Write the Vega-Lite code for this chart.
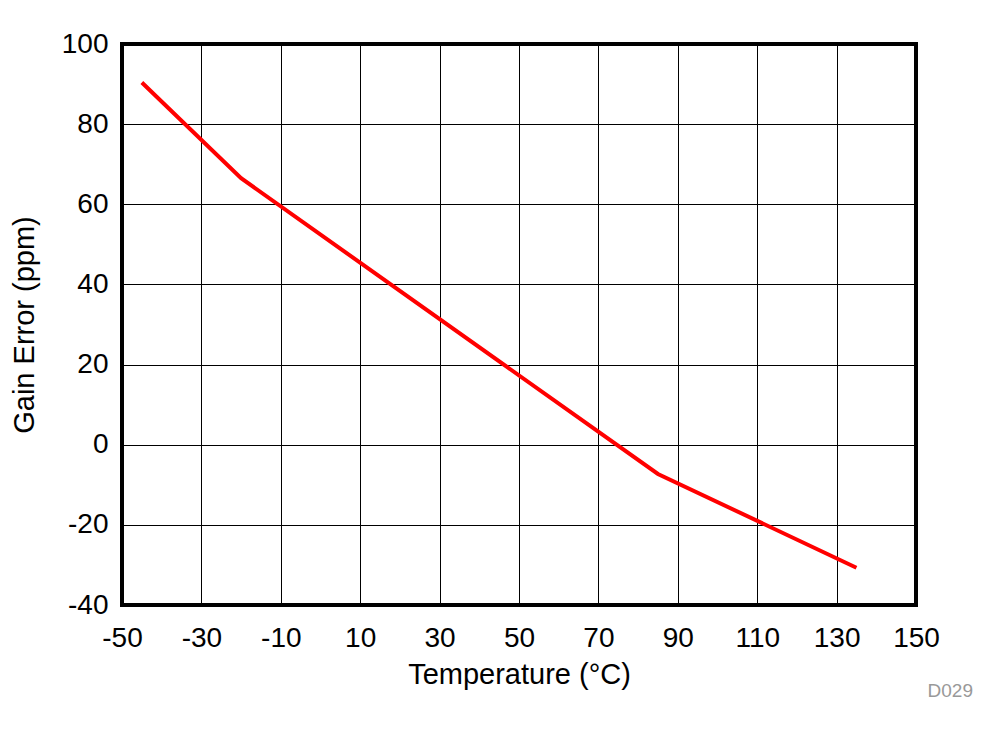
{
  "$schema": "https://vega.github.io/schema/vega-lite/v6.json",
  "width": 794,
  "height": 561,
  "autosize": "none",
  "padding": {"left": 122, "top": 44, "right": 82, "bottom": 129},
  "background": "white",
  "data": {
    "values": [
      {"temp": -45, "gain": 90.4},
      {"temp": -20, "gain": 66.5},
      {"temp": 85, "gain": -7.3},
      {"temp": 135, "gain": -30.7}
    ]
  },
  "title": {
    "text": "D029",
    "orient": "bottom",
    "anchor": "end",
    "frame": "group",
    "font": "Liberation Sans",
    "fontSize": 19,
    "fontWeight": "normal",
    "color": "#999999",
    "offset": -7,
    "dx": 57
  },
  "mark": {"type": "line", "color": "#ff0000", "strokeWidth": 4},
  "encoding": {
    "x": {
      "field": "temp",
      "type": "quantitative",
      "scale": {"domain": [-50, 150], "nice": false, "zero": false},
      "axis": {
        "values": [-50, -30, -10, 10, 30, 50, 70, 90, 110, 130, 150],
        "title": "Temperature (°C)",
        "titlePadding": 8
      }
    },
    "y": {
      "field": "gain",
      "type": "quantitative",
      "scale": {"domain": [-40, 100], "nice": false, "zero": false},
      "axis": {
        "values": [-40, -20, 0, 20, 40, 60, 80, 100],
        "title": "Gain Error (ppm)",
        "titlePadding": 22
      }
    }
  },
  "config": {
    "view": {"stroke": "black", "strokeWidth": 4},
    "axis": {
      "domain": false,
      "ticks": false,
      "grid": true,
      "gridColor": "black",
      "gridWidth": 1,
      "gridOpacity": 1,
      "labelExpr": "toString(datum.value)",
      "labelOverlap": false,
      "labelBound": false,
      "labelFlush": false,
      "labelFont": "Liberation Sans",
      "labelFontSize": 28,
      "labelColor": "black",
      "labelPadding": 14,
      "titleFont": "Liberation Sans",
      "titleFontSize": 29,
      "titleFontWeight": "normal",
      "titleColor": "black"
    },
    "axisX": {"labelPadding": 19}
  }
}
